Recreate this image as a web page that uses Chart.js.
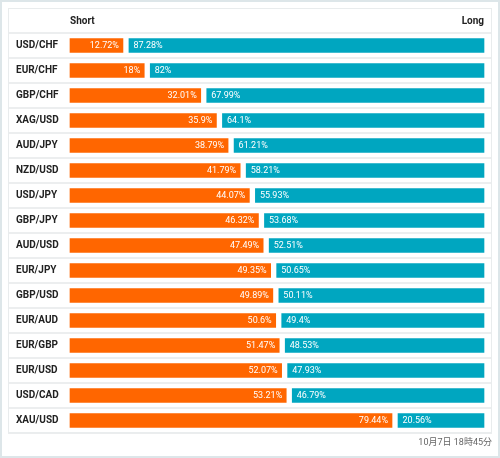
<!DOCTYPE html>
<html>
<head>
<meta charset="utf-8">
<script src="https://cdn.jsdelivr.net/npm/chart.js@4"></script>
<style>
html,body{margin:0;padding:0;background:#fff;}
#wrap{width:500px;height:458px;position:relative;}
canvas{display:block;}
</style>
</head>
<body>
<div id="wrap"><canvas id="c" width="500" height="458"></canvas></div>
<script>
const categories = ['USD/CHF','EUR/CHF','GBP/CHF','XAG/USD','AUD/JPY','NZD/USD','USD/JPY','GBP/JPY','AUD/USD','EUR/JPY','GBP/USD','EUR/AUD','EUR/GBP','EUR/USD','USD/CAD','XAU/USD'];
const shortPct = [12.72,18,32.01,35.9,38.79,41.79,44.07,46.32,47.49,49.35,49.89,50.6,51.47,52.07,53.21,79.44];
const longPct  = [87.28,82,67.99,64.1,61.21,58.21,55.93,53.68,52.51,50.65,50.11,49.4,48.53,47.93,46.79,20.56];
const headerLeft = 'Short';
const headerRight = 'Long';
const footerText = '10月7日 18時45分';

const SHORT_MIN = -1.9, SHORT_MAX = 102.25;
const LONG_MIN = -2.25, LONG_MAX = 101.9;
const BW = 3;

const decor = {
  id: 'decor',
  beforeDraw(chart) {
    const ctx = chart.ctx;
    ctx.save();
    ctx.fillStyle = '#fff';
    ctx.fillRect(0, 0, chart.width, chart.height);
    ctx.strokeStyle = '#dde6e9';
    ctx.lineWidth = 2;
    ctx.strokeRect(1, 1, chart.width - 2, chart.height - 2);
    ctx.restore();
  },
  beforeDatasetsDraw(chart) {
    const ctx = chart.ctx;
    const y = chart.scales.y;
    const area = chart.chartArea;
    const n = categories.length;
    const step = (y.getPixelForValue(1) - y.getPixelForValue(0));
    ctx.save();
    ctx.strokeStyle = '#eceeef';
    ctx.lineWidth = 2;
    const L = 8, R = chart.width - 8;
    for (let i = 0; i <= n; i++) {
      const py = y.getPixelForValue(0) - step / 2 + i * step;
      ctx.beginPath();
      ctx.moveTo(L, py);
      ctx.lineTo(R, py);
      ctx.stroke();
    }
    // table frame
    ctx.lineWidth = 1;
    ctx.strokeStyle = '#e9eced';
    const top = 8.5, bottom = y.getPixelForValue(n - 1) + step / 2;
    ctx.strokeRect(L + 0.5, top, R - L - 1, bottom - top);
    // header
    ctx.fillStyle = '#222';
    ctx.font = 'bold 10px Roboto';
    ctx.textBaseline = 'middle';
    const hy = (top + (y.getPixelForValue(0) - step / 2)) / 2 + 1;
    ctx.textAlign = 'left';
    ctx.fillText(headerLeft, area.left + BW, hy);
    ctx.textAlign = 'right';
    ctx.fillText(headerRight, area.right - BW, hy);
    // footer
    ctx.fillStyle = '#666';
    ctx.font = '9px Roboto, "Noto Sans CJK JP"';
    ctx.textAlign = 'right';
    ctx.fillText(footerText, R, bottom + 10);
    ctx.restore();
  },
  afterDatasetsDraw(chart) {
    const ctx = chart.ctx;
    const m0 = chart.getDatasetMeta(0).data;
    const m1 = chart.getDatasetMeta(1).data;
    ctx.save();
    ctx.fillStyle = '#fff';
    ctx.font = '9px Roboto';
    ctx.textBaseline = 'middle';
    for (let i = 0; i < categories.length; i++) {
      const s = m0[i], l = m1[i];
      ctx.textAlign = 'right';
      ctx.fillText(shortPct[i] + '%', s.x - BW - 4, s.y + 0.5);
      ctx.textAlign = 'left';
      ctx.fillText(longPct[i] + '%', l.x + BW + 4.5, l.y + 0.5);
    }
    ctx.restore();
  }
};

new Chart(document.getElementById('c'), {
  type: 'bar',
  data: {
    labels: categories,
    datasets: [
      {
        label: 'Short',
        data: shortPct,
        xAxisID: 'x',
        base: SHORT_MIN,
        backgroundColor: '#ff6600',
        borderColor: '#ffffff',
        borderWidth: BW,
        borderSkipped: false,
        barThickness: 20,
        grouped: false
      },
      {
        label: 'Long',
        data: longPct,
        xAxisID: 'x2',
        base: LONG_MIN,
        backgroundColor: '#00a6c0',
        borderColor: '#ffffff',
        borderWidth: BW,
        borderSkipped: false,
        barThickness: 20,
        grouped: false
      }
    ]
  },
  options: {
    indexAxis: 'y',
    responsive: false,
    animation: false,
    devicePixelRatio: 1,
    layout: { padding: { top: 33, bottom: 25, left: 16, right: 13 } },
    plugins: { legend: { display: false }, tooltip: { enabled: false }, title: { display: false } },
    scales: {
      x: { type: 'linear', min: SHORT_MIN, max: SHORT_MAX, display: false },
      x2: { type: 'linear', axis: 'x', reverse: true, min: LONG_MIN, max: LONG_MAX, display: false },
      y: {
        type: 'category',
        grid: { display: false, drawTicks: false },
        border: { display: false },
        afterFit(scale) { scale.width = 51; },
        ticks: {
          autoSkip: false,
          crossAlign: 'far',
          padding: 0,
          color: '#222',
          font: { family: 'Roboto', size: 10, weight: 'bold' }
        }
      }
    }
  },
  plugins: [decor]
});
</script>
</body>
</html>
